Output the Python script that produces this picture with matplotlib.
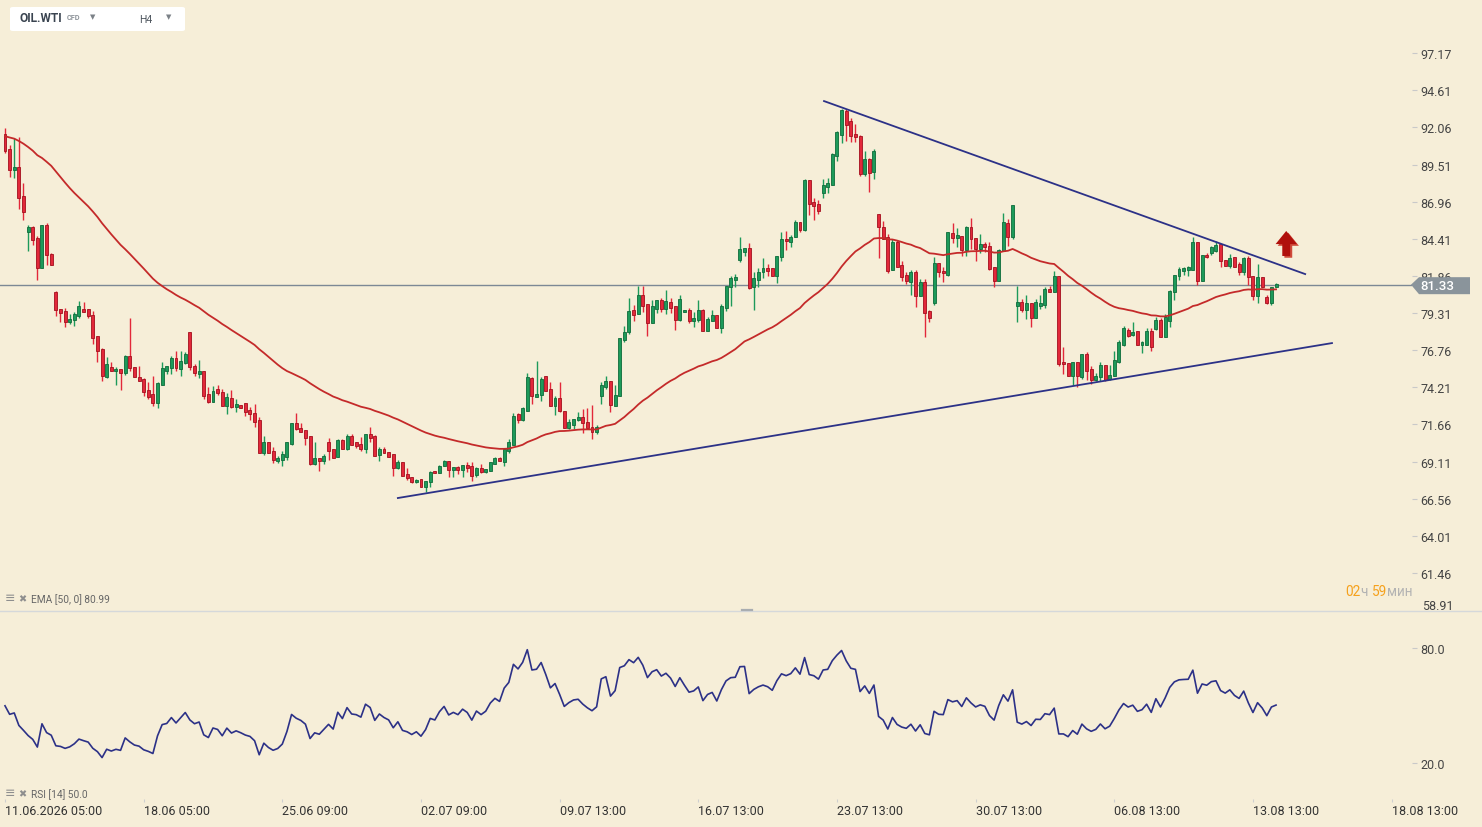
import numpy as np
import matplotlib
matplotlib.use('Agg')
import matplotlib.pyplot as plt
import matplotlib.transforms as mtransforms
from matplotlib.patches import Polygon, FancyBboxPatch
from matplotlib.lines import Line2D

plt.rcParams['font.family'] = ['Roboto', 'DejaVu Sans']

# ---- H4 candles, OIL.WTI ----
opens = [
    91.61, 90.58, 89.16, 89.34, 87.33, 84.86, 85.25, 84.49, 82.43, 85.36, 83.37, 80.76, 79.57, 79.43, 78.72, 78.81,
    79.09, 79.57, 79.57, 79.18, 77.71, 76.84, 74.92, 75.61, 75.31, 75.47, 75.22, 76.34, 75.61, 74.92, 74.78, 74.00,
    73.73, 73.11, 74.39, 75.31, 75.52, 76.20, 75.47, 75.90, 77.99, 75.70, 75.13, 75.31, 73.73, 73.23,
    74.09, 73.86, 72.94, 73.47, 72.88, 73.00, 73.11, 72.65, 72.44, 71.96, 69.67, 70.43, 69.83, 69.17, 69.24, 69.44,
    70.31, 71.75, 71.39, 71.27, 70.86, 68.94, 69.35, 69.17, 70.43, 69.97, 69.40, 70.59, 69.97, 70.88, 70.43, 70.31,
    69.97, 71.00, 70.88, 69.58, 69.97, 69.78, 69.62, 68.66, 69.05, 68.25, 68.02, 67.68, 67.91, 67.38,
    67.68, 68.48, 68.30, 68.78, 69.17, 68.55, 68.71, 68.53, 68.87, 68.78, 68.21, 68.64, 68.41, 68.48, 68.94, 69.33,
    69.10, 69.85, 70.27, 72.37, 71.98, 72.60, 74.85, 73.52, 73.67, 74.96, 74.09, 72.94, 73.47, 72.60, 71.39, 71.64,
    71.98, 72.14, 71.80, 71.52, 71.16, 73.63, 74.25, 74.66, 72.94, 73.63, 77.45, 77.98, 79.51, 79.28,
    80.55, 79.93, 78.60, 79.56, 80.21, 79.59, 80.09, 79.77, 78.85, 79.36, 79.52, 78.79, 78.83, 79.52, 78.10, 78.74,
    79.17, 78.28, 79.66, 81.08, 81.60, 82.98, 83.53, 83.76, 81.08, 81.60, 82.11, 82.40, 82.40, 81.88, 83.14, 84.39,
    84.21, 84.56, 85.54, 85.04, 88.45, 86.91, 86.80, 87.55, 88.00, 88.10, 90.12, 91.56, 93.21, 92.48,
    91.61, 91.49, 88.86, 89.89, 88.97, 86.11, 85.24, 84.51, 82.29, 84.21, 82.61, 81.92, 81.46, 82.15, 80.50, 81.42,
    79.43, 79.98, 82.75, 82.22, 81.95, 84.78, 84.44, 84.58, 83.66, 85.20, 84.46, 83.71, 84.05, 83.89, 82.45, 81.53,
    83.59, 85.47, 84.56, 79.82, 80.09, 79.52, 79.98, 78.97, 79.82, 79.89, 80.96, 80.78, 81.83,
    75.97, 75.88, 75.01, 75.93, 74.90, 76.50, 75.47, 74.74, 74.90, 75.75, 74.78, 75.01, 75.97, 77.12, 78.15, 77.83,
    78.06, 77.14, 77.14, 78.06, 78.22, 78.84, 77.69, 78.79, 80.74, 81.84, 82.22, 82.29, 82.29, 84.22, 81.54, 83.30,
    83.42, 83.60, 84.06, 82.96, 82.57, 83.19, 82.68, 82.11, 83.10, 81.84, 80.51, 81.77, 80.44, 80.00, 81.08,
]
highs = [
    92.02, 90.85, 91.34, 91.38, 88.24, 85.36, 85.31, 84.63, 85.36, 85.50, 83.44, 80.83, 79.57, 79.66, 79.22, 79.36,
    80.14, 80.07, 79.61, 79.45, 77.71, 76.93, 76.29, 75.97, 75.59, 75.47, 76.43, 78.97, 75.61, 75.68, 74.87, 74.55,
    74.99, 74.60, 75.95, 75.65, 76.34, 76.68, 76.68, 76.62, 77.99, 75.79, 76.09, 75.31, 74.23, 74.30,
    74.36, 74.09, 73.81, 74.02, 73.40, 73.00, 73.11, 72.88, 73.04, 72.14, 70.88, 70.43, 70.08, 69.51, 69.85, 70.43,
    71.73, 72.44, 71.73, 71.27, 70.86, 70.43, 69.35, 69.62, 70.72, 69.97, 70.65, 70.65, 71.04, 70.98, 70.43, 70.82,
    71.00, 71.50, 70.95, 70.13, 70.08, 69.78, 69.62, 69.21, 69.05, 68.66, 68.02, 67.91, 67.91, 67.79,
    68.48, 68.48, 68.87, 69.21, 69.17, 68.71, 68.82, 68.87, 69.10, 69.10, 68.75, 68.98, 68.59, 69.10, 69.40, 69.40,
    70.01, 70.65, 72.44, 72.44, 72.88, 75.17, 74.89, 76.01, 74.89, 74.96, 74.55, 73.63, 74.55, 72.60, 72.07, 72.07,
    72.53, 72.72, 72.79, 72.99, 71.62, 74.55, 74.96, 74.66, 74.36, 77.57, 78.44, 80.32, 79.86, 81.19,
    81.14, 79.93, 80.21, 80.21, 80.32, 80.89, 80.32, 79.77, 80.57, 79.52, 79.66, 79.36, 80.21, 79.59, 79.02, 79.52,
    79.17, 79.93, 81.14, 81.88, 81.99, 84.56, 83.76, 84.10, 82.11, 82.38, 83.09, 82.68, 82.40, 83.25, 84.90, 84.92,
    84.67, 85.70, 85.54, 88.52, 88.45, 87.21, 87.07, 88.52, 88.58, 90.30, 91.84, 93.32, 93.32, 92.71,
    92.29, 91.56, 90.46, 89.93, 90.58, 86.11, 85.65, 84.74, 84.39, 84.35, 82.91, 82.15, 82.29, 82.29, 81.65, 81.65,
    79.52, 83.14, 82.75, 82.45, 84.85, 85.47, 85.13, 84.58, 85.31, 85.84, 84.46, 84.74, 84.21, 84.21, 82.45, 83.71,
    86.16, 85.77, 86.73, 81.19, 80.27, 80.55, 79.98, 80.27, 80.55, 81.08, 81.19, 82.22, 81.88,
    76.96, 75.88, 75.93, 75.93, 76.50, 76.62, 75.70, 75.17, 75.97, 75.75, 75.75, 76.73, 77.46, 78.45, 78.29, 78.68,
    78.06, 77.42, 78.26, 78.29, 79.02, 78.97, 79.25, 80.90, 81.93, 82.45, 82.45, 82.57, 84.51, 84.22, 83.30, 83.44,
    83.94, 84.29, 84.06, 82.96, 83.37, 83.19, 82.84, 83.14, 83.21, 81.88, 82.68, 81.77, 80.55, 81.08, 81.40,
]
lows = [
    90.28, 88.68, 88.61, 86.46, 85.73, 83.60, 84.01, 81.61, 82.43, 82.61, 82.64, 79.13, 78.72, 78.38, 78.58, 78.45,
    79.00, 79.41, 79.00, 77.21, 75.97, 74.67, 74.83, 75.31, 74.39, 74.05, 75.08, 75.31, 74.90, 74.62, 73.59, 73.41,
    72.95, 72.81, 74.39, 75.13, 75.13, 75.31, 75.01, 75.81, 75.42, 74.97, 74.85, 73.41, 73.14, 73.18,
    73.70, 72.94, 72.39, 72.78, 72.49, 72.81, 72.26, 71.98, 71.50, 69.67, 69.58, 69.72, 69.01, 69.01, 68.83, 69.24,
    70.24, 71.27, 71.11, 70.27, 68.89, 68.89, 68.48, 68.94, 69.24, 69.35, 69.40, 69.97, 69.90, 70.27, 70.04, 69.85,
    69.69, 70.47, 69.51, 69.17, 69.67, 69.44, 68.14, 68.59, 68.14, 67.84, 67.61, 67.61, 67.38, 66.99,
    67.40, 68.30, 68.30, 68.78, 68.07, 68.02, 68.25, 68.07, 68.37, 67.75, 68.02, 68.30, 68.32, 68.48, 68.94, 69.17,
    68.82, 69.69, 70.27, 71.75, 71.87, 72.60, 73.10, 73.52, 73.29, 73.97, 72.94, 72.33, 72.49, 71.41, 71.34, 71.34,
    71.91, 71.06, 71.41, 70.65, 71.04, 73.06, 74.09, 72.53, 72.94, 73.63, 77.34, 77.87, 78.78, 79.28,
    79.40, 77.76, 78.60, 79.31, 79.36, 79.24, 79.29, 78.17, 78.79, 79.36, 78.63, 78.33, 78.72, 78.05, 78.05, 78.74,
    78.28, 77.94, 79.47, 79.77, 81.08, 82.84, 83.25, 80.96, 79.54, 81.08, 81.72, 81.88, 81.88, 81.35, 82.86, 83.64,
    83.87, 84.56, 84.85, 84.97, 86.07, 85.72, 86.11, 87.21, 87.55, 88.10, 89.77, 90.97, 91.10, 91.08,
    91.03, 88.70, 88.74, 87.65, 88.52, 83.09, 84.39, 82.06, 82.29, 82.49, 81.53, 81.30, 80.55, 79.75, 80.50, 77.69,
    78.67, 79.89, 81.76, 81.46, 81.88, 84.12, 83.82, 83.20, 83.20, 83.71, 82.91, 83.43, 83.48, 82.29, 81.12, 81.53,
    83.59, 83.94, 84.39, 78.72, 79.36, 78.90, 78.37, 78.97, 79.59, 79.63, 80.78, 80.73, 75.69,
    75.13, 75.01, 74.40, 74.21, 74.78, 74.74, 74.44, 74.67, 74.67, 74.62, 74.74, 75.01, 75.88, 77.07, 77.65, 77.76,
    77.14, 76.55, 77.14, 76.73, 78.15, 77.69, 77.69, 78.38, 80.23, 81.61, 81.95, 81.88, 82.29, 81.24, 81.54, 83.07,
    83.30, 83.48, 82.45, 82.57, 82.41, 82.45, 81.93, 81.93, 81.24, 80.23, 80.00, 81.08, 79.94, 79.89, 81.08,
]
closes = [
    90.47, 89.16, 89.34, 87.24, 86.28, 85.20, 84.35, 82.43, 85.36, 83.30, 82.64, 79.55, 79.34, 78.72, 78.90, 79.25,
    79.77, 79.41, 79.09, 77.62, 76.73, 74.97, 75.79, 75.31, 75.47, 75.22, 76.34, 75.56, 74.90, 74.67, 73.91, 73.57,
    73.11, 74.51, 75.54, 75.65, 76.20, 75.52, 76.00, 76.48, 75.63, 75.17, 75.31, 73.64, 73.23, 73.98,
    73.79, 72.94, 73.52, 72.88, 73.04, 72.81, 72.53, 72.37, 71.85, 69.67, 70.43, 69.72, 69.24, 69.35, 69.62, 70.43,
    71.73, 71.34, 71.11, 70.72, 68.94, 69.35, 69.17, 69.51, 69.85, 69.35, 70.59, 69.97, 70.88, 70.27, 70.20, 69.97,
    71.00, 70.72, 69.51, 70.01, 69.67, 69.44, 68.64, 69.05, 68.14, 67.98, 67.68, 67.84, 67.38, 67.75,
    68.43, 68.30, 68.82, 69.17, 68.55, 68.71, 68.55, 68.87, 68.66, 68.14, 68.64, 68.41, 68.59, 69.05, 69.33, 69.17,
    70.01, 70.43, 72.21, 71.98, 72.78, 74.89, 73.63, 73.74, 74.78, 73.97, 72.94, 73.47, 72.56, 71.41, 71.80, 72.07,
    72.14, 71.73, 71.41, 71.16, 71.46, 74.36, 74.66, 73.01, 73.67, 77.57, 77.98, 79.47, 79.19, 80.54,
    79.82, 78.60, 79.77, 80.21, 79.59, 80.11, 79.66, 78.85, 80.27, 79.52, 78.79, 78.97, 79.52, 78.10, 78.90, 79.17,
    78.28, 79.77, 81.14, 81.69, 81.76, 83.71, 83.76, 81.03, 81.69, 82.11, 82.38, 82.22, 81.88, 83.25, 84.39, 84.23,
    84.56, 85.54, 85.04, 88.45, 86.80, 86.68, 86.34, 88.10, 88.24, 90.23, 91.77, 93.25, 92.25, 91.49,
    91.38, 88.86, 89.89, 88.93, 90.46, 85.20, 84.39, 82.22, 84.17, 82.49, 81.81, 81.49, 82.11, 80.50, 81.42, 79.29,
    78.95, 82.75, 82.11, 82.04, 84.85, 84.44, 84.67, 83.66, 85.24, 84.39, 83.71, 84.05, 83.82, 82.33, 81.53, 83.66,
    85.54, 84.56, 86.73, 80.05, 79.52, 79.98, 78.97, 80.05, 80.00, 80.96, 80.78, 81.83, 75.81,
    75.81, 75.01, 75.93, 74.97, 76.50, 75.36, 74.74, 75.01, 75.75, 74.74, 75.08, 76.09, 77.30, 78.29, 77.76, 78.03,
    77.14, 77.35, 78.06, 76.96, 78.82, 77.69, 79.02, 80.85, 81.93, 82.34, 82.41, 82.45, 84.22, 81.54, 83.30, 83.14,
    83.83, 83.99, 82.87, 82.57, 83.07, 82.45, 82.11, 83.10, 81.77, 80.51, 81.77, 81.08, 80.00, 81.08, 81.33,
]
assert len(opens) == len(highs) == len(lows) == len(closes), (len(opens), len(highs), len(lows), len(closes))

last_price = 81.33
price_ticks = [97.17, 94.61, 92.06, 89.51, 86.96, 84.41, 81.86, 79.31, 76.76, 74.21, 71.66, 69.11, 66.56, 64.01, 61.46]
bottom_price_label = 58.91
rsi_ticks = [80.0, 20.0]
date_labels = ['11.06.2026 05:00', '18.06 05:00', '25.06 09:00', '02.07 09:00', '09.07 13:00', '16.07 13:00',
               '23.07 13:00', '30.07 13:00', '06.08 13:00', '13.08 13:00', '18.08 13:00']
bars_per_label = 30

# trend lines drawn by the analyst (candle index, price)
upper_trend = ([177.2, 281.3], [93.87, 81.99])
lower_trend = ([85.0, 287.1], [66.61, 77.25])
arrow_at = (277.2, 83.23)   # base of the red "up" arrow

# indicator settings (history before the first candle is unknown -> seeds)
EMA_PERIOD, EMA_SEED = 50, 91.5
RSI_PERIOD, RSI_PREV_CLOSE, RSI_SEED_GAIN, RSI_SEED_LOSS = 14, 90.9, 0.55, 0.52

BG = '#f6eed8'
GREEN, GREEN_EDGE = '#1d9a5a', '#0e6b3a'
RED, RED_EDGE = '#e2283a', '#a3101e'
NAVY = '#2c3187'

opens, highs, lows, closes = map(np.array, (opens, highs, lows, closes))
x = np.arange(len(closes))

# EMA 50
ema = []
val = EMA_SEED
k = 2.0 / (EMA_PERIOD + 1)
for c in closes:
    val = val + k * (c - val)
    ema.append(val)

# RSI 14 (Wilder)
rsi = []
g, l, prev = RSI_SEED_GAIN, RSI_SEED_LOSS, RSI_PREV_CLOSE
for c in closes:
    d = c - prev
    g = (g * (RSI_PERIOD - 1) + max(d, 0)) / RSI_PERIOD
    l = (l * (RSI_PERIOD - 1) + max(-d, 0)) / RSI_PERIOD
    rsi.append(100 - 100 / (1 + g / l))
    prev = c

W, H = 1482, 828
fig = plt.figure(figsize=(W / 100, H / 100), dpi=100)
fig.patch.set_facecolor(BG)
PLOT_W = 1412
ax = fig.add_axes([0, 1 - 611 / H, PLOT_W / W, 611 / H])
rax = fig.add_axes([0, 28 / H, PLOT_W / W, 188 / H])

xlim = (-5 / 4.622, (PLOT_W - 5) / 4.622)
for a in (ax, rax):
    a.set_facecolor(BG)
    for s in a.spines.values():
        s.set_visible(False)
    a.set_xlim(*xlim)

# ---- main pane ----
ax.set_ylim(58.92, 100.88)
px_per_unit = 611 / (100.88 - 58.92)
up = closes >= opens
col = np.where(up, GREEN, RED)
ecol = np.where(up, GREEN_EDGE, RED_EDGE)
ax.vlines(x, lows, highs, colors=col, lw=1, zorder=2)
body_lo = np.minimum(opens, closes)
body_h = np.maximum(np.abs(closes - opens), 0.07)
ax.bar(x, body_h, bottom=body_lo, width=0.64, color=col, edgecolor=ecol, linewidth=0.6, zorder=3)
ax.plot(x, ema, color='#c42a2a', lw=1.3, zorder=4)

# the platform draws its price line a pixel under the tick scale
line_y = last_price - 1 / px_per_unit
ax.axhline(line_y, color='#7c8895', lw=1, zorder=1)
ax.plot(*upper_trend, color=NAVY, lw=1.3, zorder=5)
ax.plot(*lower_trend, color=NAVY, lw=1.3, zorder=5)

# red arrow
ax0, ay0 = arrow_at
def arrow_pts(dx, dy):
    return [(ax0 - 0.85 + dx, ay0 + dy), (ax0 + 0.85 + dx, ay0 + dy), (ax0 + 0.85 + dx, ay0 + 0.82 + dy),
            (ax0 + 2.3 + dx, ay0 + 0.82 + dy), (ax0 + dx, ay0 + 1.72 + dy), (ax0 - 2.3 + dx, ay0 + 0.82 + dy),
            (ax0 - 0.85 + dx, ay0 + 0.82 + dy)]
ax.add_patch(Polygon(arrow_pts(0.45, -0.12), closed=True, fc='#cf4a3a', ec='none', zorder=6))
ax.add_patch(Polygon(arrow_pts(0, 0), closed=True, fc='#b0100c', ec='none', zorder=7))

ax.yaxis.tick_right()
ax.set_yticks(price_ticks)
ax.set_yticklabels(['%.2f' % v for v in price_ticks])
ax.tick_params(axis='y', length=3.6, width=0.8, color='#c9c9c9', labelsize=9, labelcolor='#444444', pad=2.5)
ax.set_xticks([])

# ---- RSI pane ----
rax.set_ylim(1.22, 99.3)
rax.plot(x, rsi, color=NAVY, lw=1.2)
rax.yaxis.tick_right()
rax.set_yticks(rsi_ticks)
rax.set_yticklabels(['%.1f' % v for v in rsi_ticks])
rax.tick_params(axis='y', length=3.6, width=0.8, color='#c9c9c9', labelsize=9, labelcolor='#444444', pad=2.5)
rax.set_xticks(np.arange(len(date_labels)) * bars_per_label)
rax.set_xticklabels(date_labels)
for t in rax.get_xticklabels():
    t.set_horizontalalignment('left')
rax.tick_params(axis='x', length=2.5, width=0.8, color='#cfcfcf', labelsize=9, labelcolor='#333333', pad=1)


def fx(px):
    return px / W


def fy(py):
    return 1 - py / H


# bottom price label of the main scale
fig.text(fx(1422), fy(606), '%.2f' % bottom_price_label, fontsize=9, color='#444444', va='center')

# last price tag
blend = mtransforms.blended_transform_factory(fig.transFigure, ax.transData)
up_h, dn_h = 7.5 / px_per_unit, 9.5 / px_per_unit
tag = Polygon([(fx(1411), line_y), (fx(1419), line_y + up_h), (fx(1470), line_y + up_h),
               (fx(1470), line_y - dn_h), (fx(1419), line_y - dn_h)], closed=True,
              transform=blend, fc='#8a949b', ec='none')
fig.add_artist(tag)
fig.text(fx(1437), line_y - 1 / px_per_unit, '%.2f' % last_price, transform=blend, fontsize=9.5,
         color='white', ha='center', va='center', weight='medium')

# pane separator
fig.add_artist(Line2D([0, 1], [fy(611.5), fy(611.5)], transform=fig.transFigure, color='#d5d8da', lw=1))
fig.add_artist(Line2D([fx(742), fx(752)], [fy(611), fy(611)], transform=fig.transFigure, color='#a9adb1', lw=1.6))

# symbol box
fig.add_artist(FancyBboxPatch((fx(10), fy(32)), 175 / W, 24 / H, boxstyle='round,pad=0,rounding_size=0.002',
                              transform=fig.transFigure, fc='white', ec='none'))
fig.text(fx(20), fy(19), 'OIL.WTI', fontsize=8.6, weight='bold', color='#3a4450', va='center')
fig.text(fx(67), fy(18.5), 'CFD', fontsize=5.3, weight='bold', color='#8d9399', va='center')
fig.text(fx(90), fy(17), '\u25bc', family='DejaVu Sans', fontsize=5, color='#7b8187', va='center')
fig.text(fx(139), fy(20), 'H4', fontsize=7.5, color='#4d555d', va='center')
fig.text(fx(166), fy(17), '\u25bc', family='DejaVu Sans', fontsize=5, color='#7b8187', va='center')

# indicator captions
for ypix, caption in ((600, 'EMA [50, 0] 80.99'), (795, 'RSI [14] 50.0')):
    fig.text(fx(5), fy(ypix - 1), '\u2261', family='DejaVu Sans', fontsize=9, color='#8e8e8e', va='center')
    fig.text(fx(18), fy(ypix - 1), '\u2716', family='DejaVu Sans', fontsize=7, color='#8e8e8e', va='center')
    fig.text(fx(31), fy(ypix), caption, fontsize=7.3, color='#666666', va='center')

# candle timer
ORANGE, GREY = '#f5a11c', '#b3b3b3'
for xp, s, c in ((1345, '02', ORANGE), (1360, 'ч', GREY), (1372, '59', ORANGE), (1387, 'мин', GREY)):
    fig.text(fx(xp), fy(592), s, fontsize=9.8, color=c, va='center')

fig.savefig('out.png', dpi=100, facecolor=BG)
